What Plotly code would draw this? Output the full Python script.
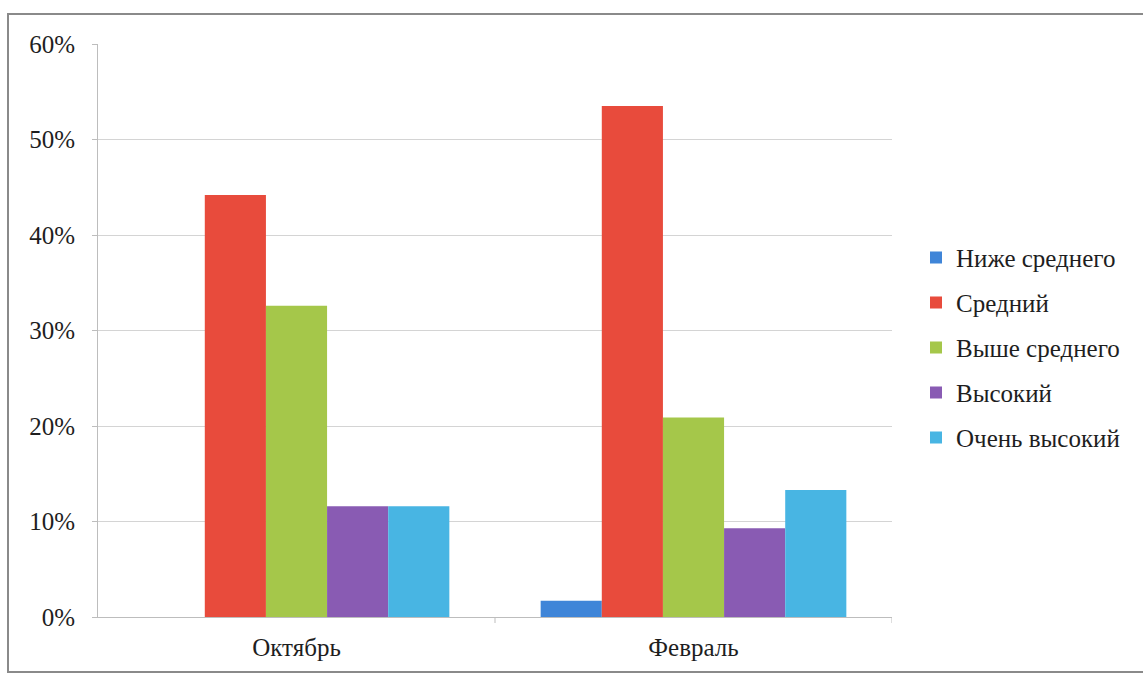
import plotly.graph_objects as go

categories = ["Октябрь", "Февраль"]
series_names = ["Ниже среднего", "Средний", "Выше среднего", "Высокий", "Очень высокий"]
ниже_среднего = [0.0, 0.017]
средний = [0.442, 0.535]
выше_среднего = [0.326, 0.209]
высокий = [0.116, 0.093]
очень_высокий = [0.116, 0.133]
y_ticks = [0, 0.1, 0.2, 0.3, 0.4, 0.5, 0.6]
y_tick_labels = ["0%", "10%", "20%", "30%", "40%", "50%", "60%"]

values = [ниже_среднего, средний, выше_среднего, высокий, очень_высокий]
colors = ["#3f85d8", "#e84b3c", "#a5c74a", "#895bb3", "#48b5e3"]

FONT = "Liberation Serif"
FS = 25
TXT = "#1e1e1e"
fig = go.Figure()
for i, (name, vals) in enumerate(zip(series_names, values)):
    fig.add_trace(go.Bar(x=categories, y=vals, name=name, marker_color=colors[i],
                         marker_line_width=0, legendgroup=f"g{i}"))

W, H = 1143, 675
L, R, T, B = 98, 251, 44, 58
pw, ph = W - L - R, H - T - B

def px_x(x):
    return (x - L) / pw

def px_y(y):
    return (H - B - y) / ph

fig.update_layout(
    width=W, height=H,
    margin=dict(l=L, r=R, t=T, b=B),
    paper_bgcolor="white", plot_bgcolor="white",
    barmode="group", bargap=0.23, bargroupgap=0,
    font=dict(family=FONT, size=FS, color=TXT),
    showlegend=True,
    legend=dict(x=px_x(916), y=0.47, xanchor="left", yanchor="middle",
                font=dict(family=FONT, size=FS, color=TXT),
                tracegroupgap=9.5, itemwidth=30, bgcolor="rgba(0,0,0,0)"),
    xaxis=dict(showgrid=False, showline=True, linecolor="#bdbdbd", linewidth=1,
               ticks="", tickfont=dict(family=FONT, size=FS, color=TXT),
               ticklabelstandoff=8, range=[-0.5, 1.5], fixedrange=True),
    yaxis=dict(range=[0, 0.6], tickvals=y_ticks, ticktext=y_tick_labels,
               showgrid=True, gridcolor="#d4d4d4", gridwidth=1,
               showline=True, linecolor="#bdbdbd", linewidth=1,
               ticks="outside", ticklen=5, tickcolor="#bdbdbd",
               tickfont=dict(family=FONT, size=FS, color=TXT),
               ticklabelstandoff=12, zeroline=False, fixedrange=True),
    shapes=[
        dict(type="line", xref="x", yref="paper", x0=0.5, x1=0.5, y0=0, y1=px_y(623),
             line=dict(color="#bdbdbd", width=1)),
        dict(type="line", xref="x", yref="paper", x0=1.5, x1=1.5, y0=0, y1=px_y(623),
             line=dict(color="#bdbdbd", width=1)),
        dict(type="rect", xref="paper", yref="paper",
             x0=px_x(8), x1=px_x(1150), y0=px_y(672), y1=px_y(14),
             line=dict(color="#8a8a8a", width=2), fillcolor="rgba(0,0,0,0)", layer="below"),
    ],
)

fig.write_html("out.html")
